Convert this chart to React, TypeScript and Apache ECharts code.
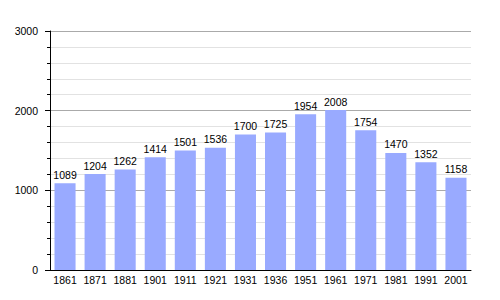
import React, { useEffect, useRef } from "react";
import * as echarts from "echarts";

const years = ["1861", "1871", "1881", "1901", "1911", "1921", "1931", "1936", "1951", "1961", "1971", "1981", "1991", "2001"];
const population = [1089, 1204, 1262, 1414, 1501, 1536, 1700, 1725, 1954, 2008, 1754, 1470, 1352, 1158];
const yTicks = [0, 1000, 2000, 3000];

const FONT = "Liberation Sans, Arial, sans-serif";

export default function App() {
  const ref = useRef<HTMLDivElement>(null);
  useEffect(() => {
    const chart = echarts.init(ref.current!, null, { renderer: "svg" });
    chart.setOption({
      animation: false,
      textStyle: { fontFamily: FONT },
      grid: { left: 50, right: 29, top: 31, bottom: 30, containLabel: false },
      xAxis: {
        type: "category",
        data: years,
        axisLine: { lineStyle: { color: "#000", width: 1 } },
        axisTick: { show: false },
        axisLabel: { color: "#000", fontSize: 10.5, margin: 4, interval: 0, fontFamily: FONT },
      },
      yAxis: {
        type: "value",
        min: yTicks[0],
        max: yTicks[yTicks.length - 1],
        interval: 1000,
        axisLine: { show: true, lineStyle: { color: "#000", width: 1 } },
        axisTick: { show: true, inside: false, length: 5, lineStyle: { color: "#000" } },
        minorTick: { show: true, splitNumber: 5, length: 3, lineStyle: { color: "#000" } },
        splitLine: { show: true, lineStyle: { color: "#aaaaaa", width: 1 } },
        minorSplitLine: { show: true, lineStyle: { color: "#e2e2e2", width: 1 } },
        axisLabel: {
          color: "#000",
          fontSize: 10.5,
          margin: 12,
          fontFamily: FONT,
          formatter: (v: number) => String(v),
        },
      },
      series: [
        {
          type: "bar",
          data: population,
          barCategoryGap: "30%",
          itemStyle: { color: "#99aaff" },
          label: {
            show: true,
            position: "top",
            distance: 3,
            color: "#000",
            fontSize: 10.5,
            fontFamily: FONT,
          },
        },
      ],
    });
    return () => chart.dispose();
  }, []);
  return <div ref={ref} style={{ width: 500, height: 300, position: "absolute", left: 0, top: 0, background: "#fff" }} />;
}
